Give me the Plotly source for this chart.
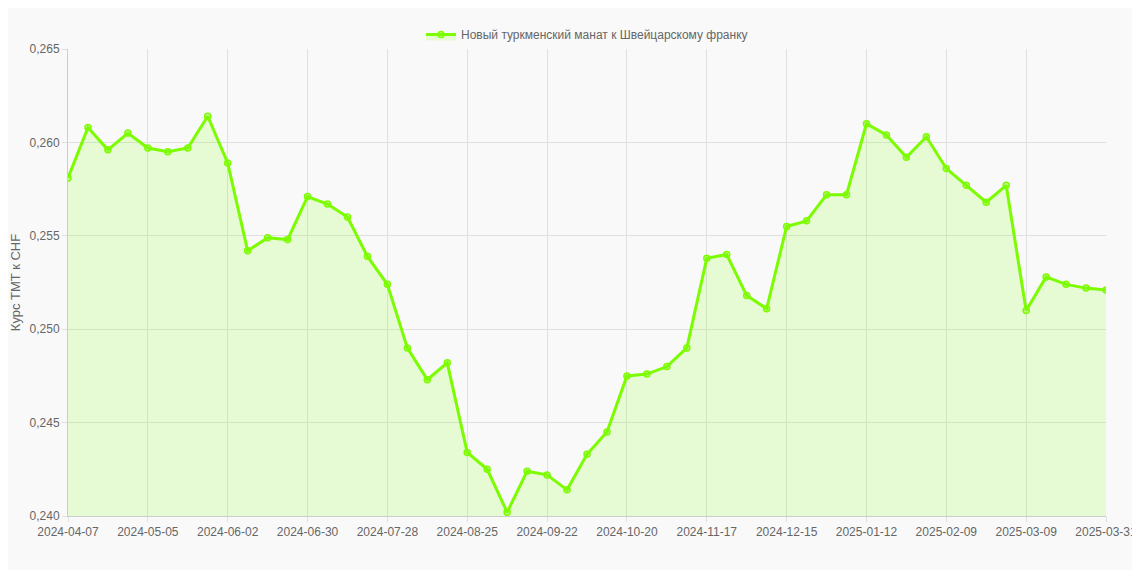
import plotly.graph_objects as go
import datetime as dt

start = dt.date(2024, 4, 7)
dates = [(start + dt.timedelta(weeks=i)).isoformat() for i in range(52)] + ["2025-03-31"]
values = [0.2581, 0.2608, 0.2596, 0.2605, 0.2597, 0.2595, 0.2597, 0.2614, 0.2589, 0.2542,
          0.2549, 0.2548, 0.2571, 0.2567, 0.2560, 0.2539, 0.2524, 0.2490, 0.2473, 0.2482,
          0.2434, 0.2425, 0.2402, 0.2424, 0.2422, 0.2414, 0.2433, 0.2445, 0.2475, 0.2476,
          0.2480, 0.2490, 0.2538, 0.2540, 0.2518, 0.2511, 0.2555, 0.2558, 0.2572, 0.2572,
          0.2610, 0.2604, 0.2592, 0.2603, 0.2586, 0.2577, 0.2568, 0.2577, 0.2510, 0.2528,
          0.2524, 0.2522, 0.2521]
tick_vals = dates[::4]
y_ticks = [0.240, 0.245, 0.250, 0.255, 0.260, 0.265]

fig = go.Figure(go.Scatter(
    x=dates, y=values, mode="lines+markers",
    name="Новый туркменский манат к Швейцарскому франку",
    line=dict(color="#7cfc00", width=3),
    marker=dict(size=6, color="rgba(124,252,0,0.3)", line=dict(color="#7cfc00", width=1.5)),
    fill="tozeroy", fillcolor="rgba(124,252,0,0.15)",
))
fig.update_layout(
    width=1140, height=570,
    margin=dict(l=60, r=42, t=24, b=62),
    paper_bgcolor="#f9f9f9", plot_bgcolor="#f9f9f9",
    font=dict(family="Liberation Sans, Arial", size=12, color="#666"),
    showlegend=True,
    legend=dict(orientation="h", x=0.5, xanchor="center", y=1.0, yanchor="bottom",
                font=dict(size=12, color="#666")),
    xaxis=dict(type="category", tickmode="array", tickvals=tick_vals, ticktext=tick_vals,
               showgrid=True, gridcolor="#e0e0e0", linecolor="#ccc", ticks="outside",
               tickcolor="#e0e0e0", range=[0, 52], tickangle=0, automargin=False),
    yaxis=dict(range=[0.240, 0.265], tickvals=y_ticks,
               ticktext=[f"{v:.3f}".replace(".", ",") for v in y_ticks],
               showgrid=True, gridcolor="#e0e0e0", linecolor="#ccc", ticks="outside",
               tickcolor="#e0e0e0", title=dict(text="Курс TMT к CHF", font=dict(size=13), standoff=6),
               zeroline=False, automargin=False),
)
fig.write_html("out.html")
